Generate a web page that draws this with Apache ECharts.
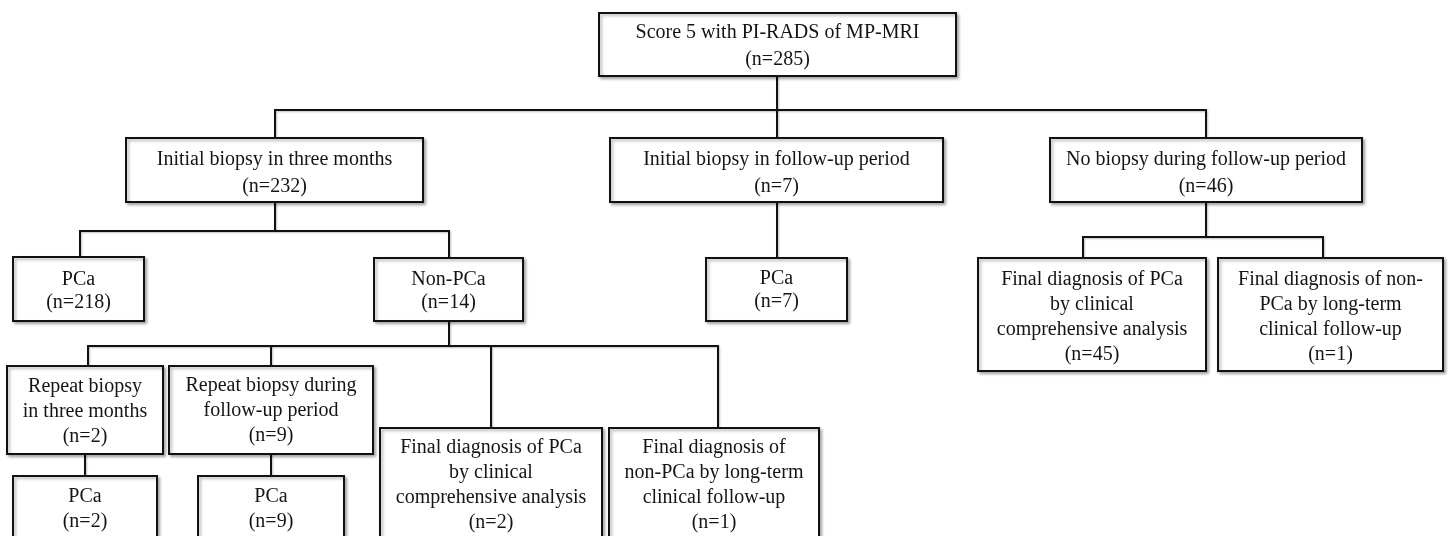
<!DOCTYPE html>
<html>
<head>
<meta charset="utf-8">
<script src="https://cdn.jsdelivr.net/npm/echarts/dist/echarts.min.js"></script>
<style>
	html, body { margin: 0; padding: 0; background: #fff; }
	#main { width: 1448px; height: 536px; }
</style>
</head>
<body>
<div id="main"></div>
<script>
// node texts and counts
var boxLabels = [
	'Score 5 with PI-RADS of MP-MRI',
	'Initial biopsy in three months',
	'Initial biopsy in follow-up period',
	'No biopsy during follow-up period',
	'PCa',
	'Non-PCa',
	'PCa',
	'Final diagnosis of PCa\nby clinical\ncomprehensive analysis',
	'Final diagnosis of non-\nPCa by long-term\nclinical follow-up',
	'Repeat biopsy\nin three months',
	'Repeat biopsy during\nfollow-up period',
	'Final diagnosis of PCa\nby clinical\ncomprehensive analysis',
	'Final diagnosis of\nnon-PCa by long-term\nclinical follow-up',
	'PCa',
	'PCa'
];
var boxCounts = [285, 232, 7, 46, 218, 14, 7, 45, 1, 2, 9, 2, 1, 2, 9];

// layout, in axis units
var boxLeft   = [599, 126, 610, 1050,  13, 374, 706,  978, 1218,   7, 169, 380, 609,  13, 198];
var boxTop    = [ 13, 138, 138,  138, 257, 258, 258,  258,  258, 366, 366, 428, 428, 476, 476];
var boxRight  = [956, 423, 943, 1362, 144, 523, 847, 1206, 1443, 163, 373, 602, 819, 157, 344];
var boxBottom = [ 76, 202, 202,  202, 321, 321, 321,  371,  371, 454, 454, 560, 560, 560, 560];
var textTop   = [ 33, 160, 160,  160, 280, 280, 279,  280,  280, 387, 386, 448, 448, 497, 497];
var lineGap   = [ 27,  27,  27,   27,  23,  23,  23,   25,   25,  25,  25,  25,  25,  25,  25];

var links = [
	[[777, 76], [777, 110]],
	[[275, 138], [275, 110], [1206, 110], [1206, 138]],
	[[777, 110], [777, 138]],
	[[275, 202], [275, 231]],
	[[80, 257], [80, 231], [449, 231], [449, 258]],
	[[777, 202], [777, 258]],
	[[1206, 202], [1206, 237]],
	[[1083, 258], [1083, 237], [1323, 237], [1323, 258]],
	[[449, 321], [449, 346]],
	[[88, 366], [88, 346], [718, 346], [718, 428]],
	[[271, 346], [271, 366]],
	[[491, 346], [491, 428]],
	[[85, 454], [85, 476]],
	[[271, 454], [271, 476]]
];

var myChart = echarts.init(document.getElementById('main'));

var boxData = [];
boxLabels.forEach(function(d, i) {
	boxData.push([boxLeft[i], boxTop[i]]);
});

var linkData = [];
links.forEach(function(c) {
	linkData.push({coords: c});
});

function renderBox(params, api) {
	var i = params.dataIndex;
	var p0 = api.coord([boxLeft[i], boxTop[i]]);
	var p1 = api.coord([boxRight[i], boxBottom[i]]);
	var ty = api.coord([0, textTop[i]])[1];
	return {
		type: 'group',
		children: [{
			type: 'rect',
			shape: {x: p0[0], y: p0[1], width: p1[0] - p0[0], height: p1[1] - p0[1]},
			style: {
				fill: '#fff',
				stroke: '#111',
				lineWidth: 2,
				shadowBlur: 3,
				shadowOffsetX: 2,
				shadowOffsetY: 2,
				shadowColor: 'rgba(0,0,0,0.3)'
			}
		}, {
			type: 'text',
			x: (p0[0] + p1[0]) / 2,
			y: ty - lineGap[i] / 2,
			style: {
				text: boxLabels[i] + '\n(n=' + boxCounts[i] + ')',
				fontFamily: '"Liberation Serif", "Times New Roman", serif',
				fontSize: 20,
				lineHeight: lineGap[i],
				fill: '#141414',
				align: 'center',
				verticalAlign: 'top'
			}
		}]
	};
}

option = {
	animation: false,
	backgroundColor: '#fff',
	grid: {left: 0, right: 0, top: 0, bottom: 0},
	xAxis: {type: 'value', min: 0, max: 1448, show: false},
	yAxis: {type: 'value', min: 0, max: 536, inverse: true, show: false},
	series: [{
		type: 'lines',
		coordinateSystem: 'cartesian2d',
		polyline: true,
		silent: true,
		lineStyle: {
			color: '#111',
			width: 2,
			opacity: 1,
			shadowBlur: 2,
			shadowOffsetX: 1,
			shadowOffsetY: 1,
			shadowColor: 'rgba(0,0,0,0.25)'
		},
		data: linkData
	}, {
		type: 'custom',
		renderItem: renderBox,
		clip: false,
		data: boxData,
		z: 3
	}]
};
myChart.setOption(option);
</script>
</body>
</html>
